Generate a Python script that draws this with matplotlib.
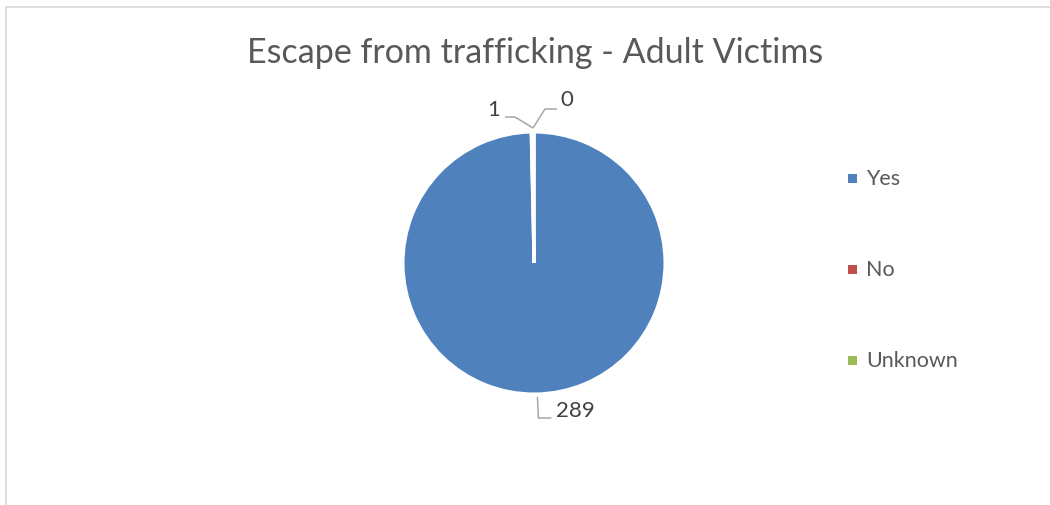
import numpy as np
import matplotlib
matplotlib.use("Agg")
import matplotlib.pyplot as plt
from matplotlib.lines import Line2D
from matplotlib.patches import Rectangle

title = "Escape from trafficking - Adult Victims"
categories = ["Yes", "No", "Unknown"]
values = [289, 1, 0]
colors = ["#4F81BD", "#C0504D", "#9BBB59"]

plt.rcParams['font.family'] = ['Lato', 'DejaVu Sans']

W, H = 1050, 505
fig = plt.figure(figsize=(W / 100, H / 100), dpi=100)

# chart border (top and left visible)
fig.add_artist(Line2D([6 / W, 6 / W], [0, 1 - 7 / H], color="#D9D9D9", lw=1.2))
fig.add_artist(Line2D([6 / W, 1], [1 - 7 / H, 1 - 7 / H], color="#D9D9D9", lw=1.2))

# pie axes: center (534, 263) px, radius 131 px, limits +-1.5
R = 131
cx, cy = 534, H - 263
span = 1.5
size = 2 * span * R
ax = fig.add_axes([(cx - size / 2) / W, (cy - size / 2) / H, size / W, size / H])

wedges, _ = ax.pie(values, colors=colors, startangle=90, counterclock=False,
                   wedgeprops=dict(edgecolor="white", linewidth=2.2))
ax.set_xlim(-span, span)
ax.set_ylim(-span, span)
ax.set_aspect('equal')
ax.axis('off')

# data label leader lines: offsets in pixels from the wedge edge point
label_offsets = {
    0: [(2, -3), (3, -24), (16, -24)],     # 289
    1: [(-1, 4), (-19, 15), (-29, 15)],    # 1
    2: [(-1, 4), (11, 23), (23, 23)],      # 0
}
text_shift = {0: (5, 7), 1: (-5, 7), 2: (3, 9)}
text_ha = {0: "left", 1: "right", 2: "left"}
lc = "#A6A6A6"
for i, w in enumerate(wedges):
    if values[i] == 0:
        mid = np.deg2rad(w.theta1)
    else:
        mid = np.deg2rad((w.theta1 + w.theta2) / 2)
    x0, y0 = np.cos(mid), np.sin(mid)
    if i in (1, 2):
        x0 = 0.0
    pts = [(x0 + dx / R, y0 + dy / R) for dx, dy in label_offsets[i]]
    xs, ys = zip(*pts)
    ax.plot(xs, ys, color=lc, lw=1.1, solid_capstyle='butt', clip_on=False)
    tx, ty = pts[-1]
    sx, sy = text_shift[i]
    ax.text(tx + sx / R, ty + sy / R, str(values[i]), ha=text_ha[i], va="center",
            fontsize=16, color="#404040")

fig.text(535 / W, 1 - 53 / H, title, ha="center", va="center",
         fontsize=24.5, color="#595959")

# legend
leg_y = [178, 269, 360]
for cat, col, y in zip(categories, colors, leg_y):
    fig.add_artist(Rectangle((848 / W, (H - y - 4.5) / H), 9 / W, 9 / H,
                             facecolor=col, edgecolor="none"))
    fig.text(866 / W, 1 - (y + 1) / H, cat, ha="left", va="center",
             fontsize=15.5, color="#595959")

fig.savefig("out.png", dpi=100)
